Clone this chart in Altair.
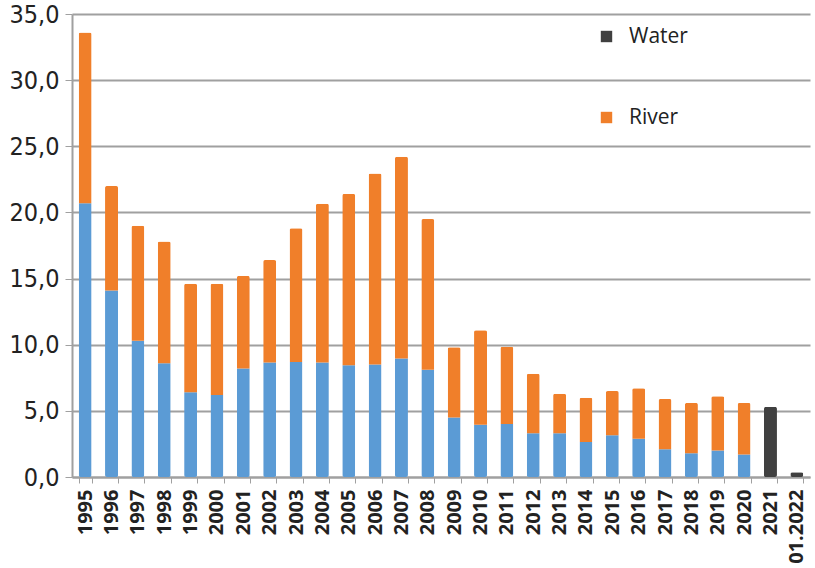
import altair as alt
import pandas as pd

# Categories along the x axis
years = ["1995", "1996", "1997", "1998", "1999", "2000", "2001", "2002", "2003",
         "2004", "2005", "2006", "2007", "2008", "2009", "2010", "2011", "2012",
         "2013", "2014", "2015", "2016", "2017", "2018", "2019", "2020", "2021",
         "01.2022"]

# Lower (blue) segment of each stacked column
base_vals = [20.7, 14.1, 10.3, 8.6, 6.4, 6.2, 8.2, 8.65, 8.7, 8.65, 8.45, 8.5,
             8.95, 8.1, 4.5, 3.95, 4.0, 3.3, 3.3, 2.65, 3.15, 2.9, 2.1, 1.8, 2.0,
             1.7, 0.0, 0.0]

# River segment stacked on top
river_vals = [12.9, 7.9, 8.7, 9.2, 8.2, 8.4, 7.0, 7.75, 10.1, 12.0, 12.95, 14.45,
              15.25, 11.4, 5.3, 7.15, 5.85, 4.5, 3.0, 3.35, 3.35, 3.8, 3.8, 3.8,
              4.1, 3.9, 0.0, 0.0]

# Water values (last two periods only)
water_vals = [0.0] * 26 + [5.3, 0.35]

series_names = ["Water", "River", "Base"]
series_colors = ["#404040", "#F07F2A", "#5B9BD5"]

rows = []
for i, y in enumerate(years):
    rows.append({"year": y, "series": "Base", "value": base_vals[i], "k": 0})
    rows.append({"year": y, "series": "River", "value": river_vals[i], "k": 1})
    rows.append({"year": y, "series": "Water", "value": water_vals[i], "k": 2})
df = pd.DataFrame(rows)
df = df[df["value"] > 0]

font = "Liberation Sans Narrow, DejaVu Sans Condensed, Liberation Sans"

chart = alt.Chart(df).mark_bar(width=13, cornerRadius=2).encode(
    x=alt.X("year:N", sort=years, title=None,
            axis=alt.Axis(labelAngle=-90, labelAlign="right", labelBaseline="middle",
                          labelFont="Open Sans", labelFontWeight="bold",
                          labelFontSize=20, labelColor="#222222", labelPadding=6,
                          tickBand="extent", tickColor="#a0a0a0", tickSize=6,
                          domainColor="#a0a0a0", domainWidth=2, grid=False)),
    y=alt.Y("value:Q", stack="zero", title=None,
            scale=alt.Scale(domain=[0, 35], nice=False),
            axis=alt.Axis(values=[0, 5, 10, 15, 20, 25, 30, 35],
                          labelExpr="replace(format(datum.value, '.1f'), '.', ',')",
                          labelFont=font, labelFontSize=25, labelColor="#222222",
                          labelPadding=6, tickColor="#a0a0a0", tickSize=7,
                          domainColor="#a0a0a0", domainWidth=2,
                          gridColor="#a0a0a0", gridWidth=2)),
    color=alt.Color("series:N",
                    scale=alt.Scale(domain=series_names, range=series_colors),
                    legend=alt.Legend(values=["Water", "River"], title=None,
                                      orient="none", legendX=524, legendY=12,
                                      symbolType="square", symbolSize=130,
                                      symbolStrokeWidth=0,
                                      labelFont="Open Sans", labelFontSize=21,
                                      labelColor="#222222", labelOffset=12,
                                      rowPadding=59)),
    order=alt.Order("k:Q", sort="ascending"),
).properties(
    width=738, height=463,
    padding={"left": 72, "top": 14, "right": 5, "bottom": 91},
    autosize=alt.AutoSizeParams(type="none"),
).configure_view(stroke=None).configure_scale(bandPaddingInner=0.5, bandPaddingOuter=0.25)

chart.save("out.html", embed_options={"renderer": "svg", "actions": False})
